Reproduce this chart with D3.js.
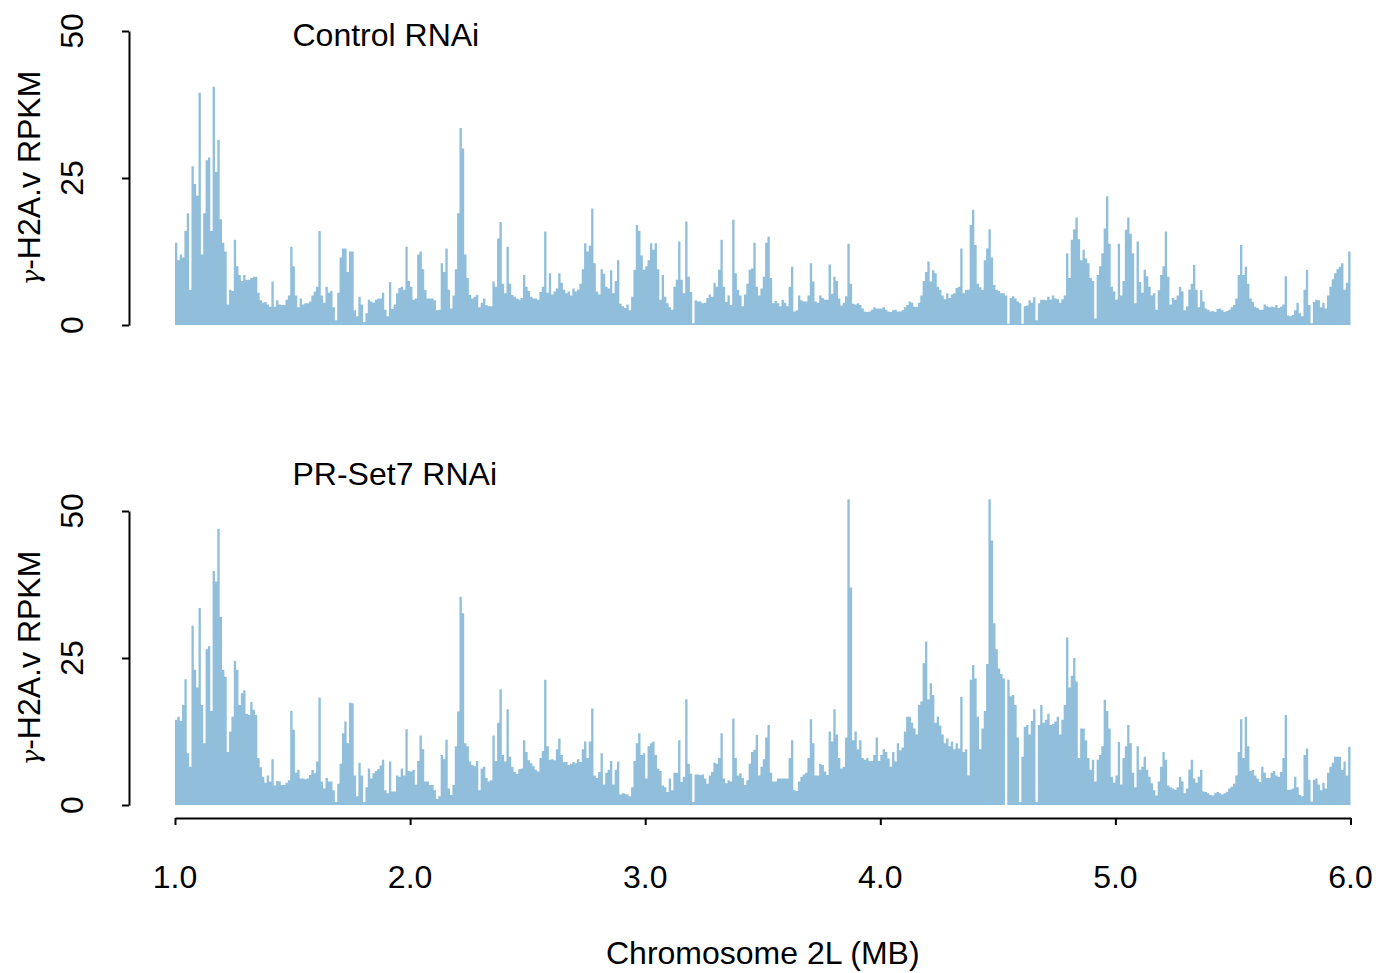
<!DOCTYPE html>
<html>
<head>
<meta charset="utf-8">
<script src="https://cdn.jsdelivr.net/npm/d3@7"></script>
<style>
  body { margin: 0; background: #fff; }
  svg { display: block; }
  text { font-family: "Liberation Sans", Arial, sans-serif; fill: #000; }
</style>
</head>
<body>
<svg id="chart" width="1376" height="973"></svg>
<script>
// Data: gamma-H2A.v RPKM in 10 kb bins along chromosome 2L, 1.0 - 6.0 MB

const binStart = 1.0;
const binSize = 0.01;

const controlRPKM = [
  14, 11, 12, 11.5, 16, 19, 6, 27, 24, 22,
  39.5, 12, 19, 28, 28.5, 16, 40.5, 26, 31.5, 18,
  14, 12.5, 3.5, 6, 5.8, 14.5, 10, 8.5, 7.5, 8.5,
  7.7, 7.7, 8, 8.2, 8.2, 5.5, 4.2, 3.8, 3.9, 3.5,
  3.1, 7.4, 3.1, 4.2, 3.5, 3.4, 3.4, 4.3, 5, 13.3,
  10, 5, 3, 4.5, 3.5, 3.7, 3.7, 4, 5, 5.7,
  6.5, 16, 5, 3.8, 6.5, 5.5, 5.8, 3, 0.8, 5.5,
  11.5, 13, 13, 9, 12.5, 12.5, 2.5, 1.5, 4.8, 3.5,
  0.5, 2, 4.3, 4, 3.8, 4.3, 4.5, 4.5, 5.5, 2.6,
  1.5, 7.3, 2.7, 3.5, 5.4, 6.3, 6.5, 6, 13.3, 7.5,
  6.5, 4.3, 4.5, 12, 12.5, 9.5, 6, 4.5, 4.5, 4.5,
  4.2, 2.5, 2.6, 10.5, 9, 13, 6, 2.8, 5, 9.5,
  19, 33.5, 30, 12, 8, 5.1, 4.5, 4.8, 5.1, 3,
  3.8, 4.5, 3.4, 3.2, 3.2, 7.4, 6.5, 14.7, 17.5, 7,
  5.4, 13.3, 7, 5.1, 4.8, 4.5, 4.3, 4.6, 8.5, 6.5,
  5.8, 4.8, 4.5, 4.5, 4.3, 5.6, 6.5, 15.9, 5.5, 8.8,
  5.2, 5.7, 6.2, 8.8, 7.2, 6, 5.4, 5.7, 5, 6.2,
  5.7, 6, 7, 9.5, 13.9, 12.5, 13.5, 19.8, 10.5, 5.7,
  5.2, 9.5, 8.7, 6.5, 6.2, 9.3, 5.4, 7.5, 11, 3.6,
  3.2, 2.9, 3.5, 2.5, 4.8, 9.4, 17, 16, 11.8, 9.4,
  10, 11, 13.9, 12.8, 13.9, 9.5, 4.3, 8.5, 4.8, 3.7,
  3, 2.6, 6.5, 7.7, 14.2, 7.7, 5.4, 17.6, 8.2, 5.6,
  0.3, 4.2, 4, 4, 3.7, 3.8, 4.6, 5.2, 4.8, 7.2,
  6.5, 9.4, 14.5, 6.5, 3.9, 5, 3.4, 17.9, 8.8, 6,
  5, 3.2, 5.2, 7, 9.4, 9.6, 14, 6.5, 5, 6.2,
  8.2, 14, 15, 8, 3.7, 4.1, 3.7, 3.2, 4.3, 3.8,
  3.2, 6.5, 9.9, 2.3, 2.5, 5, 4.2, 4, 4, 5,
  10.5, 7.4, 4, 3.8, 5, 4.6, 4.3, 4.3, 10.3, 5.3,
  8.2, 7.5, 4.5, 3.3, 3.8, 4.9, 13.8, 7, 3.6, 3.5,
  3.7, 3.4, 2.8, 2.3, 2.2, 2.3, 2.6, 3, 2.8, 2.8,
  2.8, 3, 2.6, 2.3, 2.2, 2.5, 2.6, 2.3, 2.3, 2.5,
  3, 3.4, 4, 3.8, 3.1, 3.1, 3.8, 5, 7.5, 9,
  10.8, 7.4, 9.3, 8.8, 6.5, 6, 5, 4.4, 5.4, 4.6,
  5.2, 5.4, 6.3, 6.5, 13, 5.4, 6, 6, 17, 19.6,
  13.6, 7, 6.4, 6, 11, 13, 16.3, 11.5, 6.8, 6,
  5.8, 5.4, 5.4, 5, 0.2, 4.6, 4.9, 4.5, 4, 3.7,
  0.2, 3.2, 3.3, 4.2, 3.8, 4.7, 0.8, 3.7, 4.3, 4.3,
  4.2, 4.8, 4.3, 5, 4.5, 4.4, 3.8, 4.4, 5, 12.2,
  8, 14.5, 16.3, 18.3, 14.6, 11, 12.8, 11.3, 10.5, 8,
  7.5, 1.1, 8.5, 10, 12.2, 16.4, 21.9, 13.8, 6.5, 5.7,
  4.3, 13.8, 5, 7.5, 16.2, 18.3, 15.5, 12.2, 3.7, 14.2,
  7.3, 5.5, 9.4, 8.3, 6.5, 5, 5.4, 2.6, 5.9, 8.5,
  10, 15.9, 8.2, 3.5, 4.6, 4.3, 5, 6.5, 5.7, 2.5,
  3.2, 6, 7, 10.2, 6, 3, 5.9, 4, 2.8, 2.6,
  2.3, 2.4, 2.2, 2.7, 2.8, 2.5, 2.2, 2.4, 2.6, 3,
  3.4, 4.5, 8.5, 13.6, 8.5, 9.9, 7, 4.5, 3.9, 3.1,
  2.9, 2.6, 2.6, 3.5, 3.2, 3, 3.1, 3, 3.4, 2.9,
  3.1, 3.5, 8.3, 1.6, 1.5, 1.7, 2.5, 3.8, 2, 1.5,
  6, 9.4, 3.4, 0.3, 3.9, 4.3, 4.2, 3, 3.8, 2.8,
  5, 6.5, 7.8, 8.8, 9.5, 9.9, 10.5, 6, 7.2, 12.5
];

const prset7RPKM = [
  14.5, 15, 14.3, 17, 21.4, 8.8, 6.5, 30.5, 23, 20,
  33.5, 17, 10.5, 26.5, 27, 16, 39.8, 38, 47, 32,
  23, 21.8, 9, 12.5, 15, 24.5, 23, 17, 19, 19.5,
  15.5, 15.3, 17.5, 16.2, 15.3, 8, 6.4, 4.8, 3.8, 5,
  4, 7.8, 3.3, 4.1, 4, 3.4, 3.4, 3.8, 4.2, 16,
  12.8, 5.5, 6, 4.5, 4.5, 4.4, 4.5, 5.1, 6, 5.4,
  7.4, 18.3, 4, 2.8, 4.6, 4, 4, 2.5, 0.5, 3.6,
  7, 12.2, 14.2, 10.5, 17.4, 17.3, 5, 1.5, 7.2, 5,
  0.5, 3, 6.2, 4.5, 5.4, 5.8, 6.1, 6.7, 7.7, 2.5,
  2, 7.4, 2.3, 2.3, 5, 4.8, 6.2, 5, 12.9, 5.8,
  5.7, 6, 3.5, 7.5, 11.8, 9.5, 4, 4, 3.4, 3.4,
  2.5, 1, 1.5, 8.5, 7.8, 11.1, 2.8, 1.7, 3.4, 10,
  15.9, 35.4, 32.6, 10.5, 10, 7.4, 6.8, 6.6, 7.5, 2.5,
  6.2, 6.5, 4.6, 4, 4.2, 11.8, 7.5, 14, 19.7, 8.5,
  7.4, 16.3, 8.2, 6.5, 5.6, 5.3, 6.1, 6.2, 11, 9,
  7.6, 7.1, 6.6, 6, 5.7, 8, 9.2, 21.3, 10, 7.7,
  7.8, 7.6, 9.5, 11.3, 8.5, 7.3, 7.3, 6.8, 7, 7.3,
  7.1, 7.8, 7.3, 9.5, 10.8, 8, 10.8, 16.4, 5, 4.6,
  5.6, 8.8, 3.5, 5.5, 6, 7.5, 3.5, 6, 7.4, 1.8,
  2, 1.9, 1.8, 1.5, 3, 7.5, 10.5, 12.2, 8.5, 8.8,
  4.5, 10, 10.5, 10.8, 8.5, 6.2, 5.8, 3.3, 3, 2.2,
  4.5, 2.5, 5.5, 5.5, 11, 3.9, 4.8, 18, 7, 5.3,
  0.5, 5.2, 5.2, 5.1, 5.2, 4.5, 3.6, 5, 5.6, 7.2,
  7, 8, 12.2, 4.5, 3.7, 4.2, 4, 14.7, 8, 5,
  5.4, 4.6, 3.4, 4.2, 7, 9, 9.4, 11.9, 5, 6.5,
  7.8, 11.5, 13.6, 5.5, 4, 4, 4.5, 4.5, 4.5, 4.5,
  4.5, 8, 11, 2.5, 2.4, 4, 4.8, 5.2, 5.5, 8,
  14.6, 10.5, 5, 5, 7, 6.8, 5.7, 5.1, 12.5, 10.8,
  16.3, 12, 8, 6.2, 6.5, 11.5, 52, 37, 11, 12.5,
  9.5, 11, 8, 7.7, 8, 7.5, 7.5, 8.5, 11.5, 7.5,
  8.5, 9.5, 9, 7.9, 6.5, 9, 7.4, 10.5, 9.3, 9.8,
  12.5, 15, 15, 14, 13, 12, 17, 17.6, 24.1, 27.8,
  18, 20.7, 18.7, 14, 15, 13.5, 12, 10.5, 11.3, 10,
  10.8, 9.5, 10.5, 9.6, 18.4, 9, 9.5, 5, 21.3, 23.8,
  21.5, 15, 9.5, 13, 16, 24, 52, 45, 30.9, 26.5,
  23.2, 22.3, 21.5, 0, 21.3, 18.5, 18.7, 17, 11.5, 0.5,
  8.2, 13.3, 13.6, 12, 14.3, 16.3, 0.5, 13.6, 17, 14,
  14.5, 15.5, 13.6, 13.8, 14.2, 15, 12, 14.5, 17, 28.5,
  20, 22, 25, 21, 8, 13, 13, 11, 8, 6,
  7.7, 4, 7.7, 8.5, 10, 17.9, 16, 13, 4.8, 3.8,
  5, 10.7, 3.5, 8, 10, 13.6, 10.5, 5.5, 3, 10,
  6, 6.5, 8.2, 6, 4.8, 3.7, 2.5, 1.6, 4, 6.5,
  9, 7.7, 3.3, 3, 2.8, 2.6, 3, 4.8, 4, 2,
  2.8, 6, 7.7, 4.5, 3.8, 4.8, 6, 2.3, 2.2, 2,
  1.7, 1.6, 2, 2.2, 2, 1.8, 2, 2.2, 2.8, 3.1,
  3.6, 5, 9, 14.6, 8, 15, 10, 5.8, 6, 5,
  4.5, 3.9, 6.5, 5.5, 4.6, 4.6, 5.5, 5.8, 5, 4.8,
  5.6, 8, 15.3, 2.6, 2.6, 2.8, 4.8, 3, 1.7, 1.5,
  8.5, 9.6, 4.3, 0.6, 4.3, 4.5, 3.5, 2.5, 3.8, 2.8,
  5.5, 6.5, 7.2, 8.2, 8.2, 8.2, 6, 7.4, 5, 9.9
];

const panelTitles = ['Control RNAi', 'PR-Set7 RNAi'];
const xTicks = [1, 2, 3, 4, 5, 6];
const yTicks = [0, 25, 50];
const yLabelGreek = 'γ';
const yLabelRest = '-H2A.v RPKM';
const xLabel = 'Chromosome 2L (MB)';

// Layout

const barColor = '#91bfdb';
const fontSize = 32;

const panels = [
  { values: controlRPKM, title: panelTitles[0], top: 31, bottom: 325, titleY: 46 },
  { values: prset7RPKM, title: panelTitles[1], top: 511, bottom: 805, titleY: 485 }
];

const axisX = 129;
const xAxisY = 818;

const svg = d3.select('#chart');

const xScale = d3.scaleLinear().domain([1, 6]).range([175, 1350.5]);

panels.forEach(function (p) {
  const yScale = d3.scaleLinear().domain([0, 50]).range([p.bottom, p.top]);

  const rows = p.values.map(function (v, i) {
    return { pos: binStart + i * binSize, value: v };
  });
  // close the last bin at its right edge
  rows.push({ pos: binStart + p.values.length * binSize, value: p.values[p.values.length - 1] });

  const binArea = d3
    .area()
    .curve(d3.curveStepAfter)
    .x(d => xScale(d.pos))
    .y0(p.bottom)
    .y1(d => yScale(d.value));

  svg
    .append('path')
    .datum(rows)
    .attr('class', 'bins')
    .attr('fill', barColor)
    .attr('d', binArea);

  // y axis
  const yAxis = d3
    .axisLeft(yScale)
    .tickValues(yTicks)
    .tickSize(7)
    .tickSizeOuter(0)
    .tickFormat('');

  const yG = svg
    .append('g')
    .attr('transform', 'translate(' + axisX + ',0)')
    .call(yAxis);
  yG.selectAll('path, line').attr('stroke', '#000').attr('stroke-width', 2);

  yTicks.forEach(function (t) {
    svg
      .append('text')
      .attr('transform', 'translate(83,' + yScale(t) + ') rotate(-90)')
      .attr('text-anchor', 'middle')
      .attr('font-size', fontSize)
      .text(t);
  });

  const yTitle = svg
    .append('text')
    .attr('transform', 'translate(40,' + (p.top + p.bottom) / 2 + ') rotate(-90)')
    .attr('text-anchor', 'middle')
    .attr('font-size', fontSize);
  yTitle
    .append('tspan')
    .attr('font-family', '"DejaVu Serif", serif')
    .attr('font-style', 'italic')
    .attr('font-size', fontSize - 6)
    .text(yLabelGreek);
  yTitle.append('tspan').text(yLabelRest);

  svg
    .append('text')
    .attr('x', 292.5)
    .attr('y', p.titleY)
    .attr('font-size', fontSize)
    .text(p.title);
});

// x axis (bottom panel only)
const xAxis = d3
  .axisBottom(xScale)
  .tickValues(xTicks)
  .tickSize(7)
  .tickSizeOuter(0)
  .tickFormat('');

const xG = svg
  .append('g')
  .attr('transform', 'translate(0,' + xAxisY + ')')
  .call(xAxis);
xG.selectAll('path, line').attr('stroke', '#000').attr('stroke-width', 2);

xTicks.forEach(function (t) {
  svg
    .append('text')
    .attr('x', xScale(t))
    .attr('y', 888)
    .attr('text-anchor', 'middle')
    .attr('font-size', fontSize)
    .text(d3.format('.1f')(t));
});

svg
  .append('text')
  .attr('x', (xScale(1) + xScale(6)) / 2)
  .attr('y', 964)
  .attr('text-anchor', 'middle')
  .attr('font-size', fontSize)
  .text(xLabel);
</script>
</body>
</html>
